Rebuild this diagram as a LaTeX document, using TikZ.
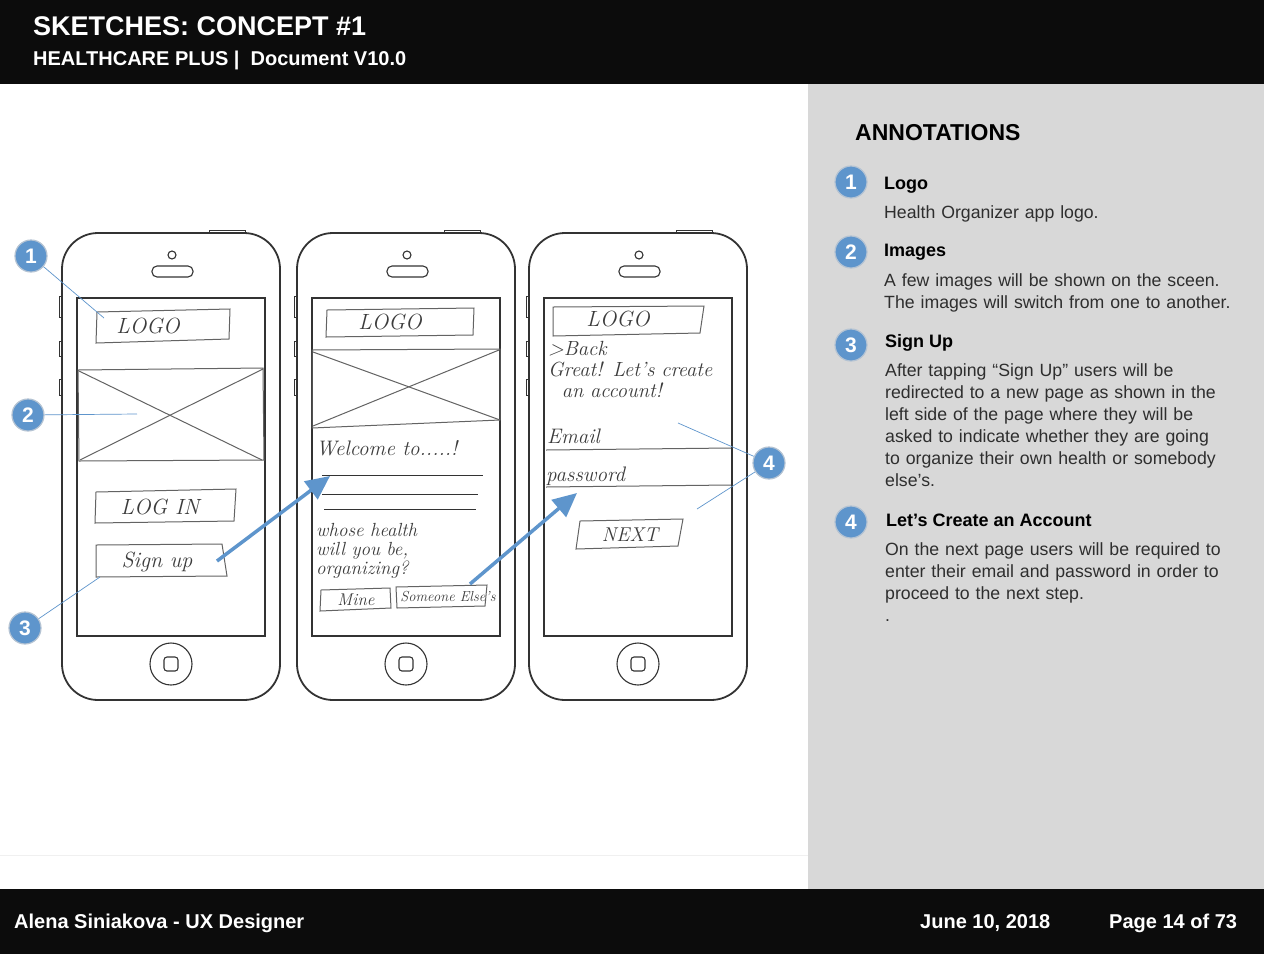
\documentclass[tikz,border=0pt]{standalone}
\usepackage{fontspec}
\setsansfont{Liberation Sans}
\usetikzlibrary{arrows.meta,positioning}
\definecolor{barblack}{HTML}{0C0C0C}
\definecolor{panelgray}{HTML}{D8D8D8}
\definecolor{badgeblue}{HTML}{5E95CC}
\definecolor{badgerim}{HTML}{B4C3D3}
\definecolor{pencil}{HTML}{3C3C3C}
\definecolor{phoneline}{HTML}{333333}
\definecolor{bodytext}{HTML}{2E2E2E}

\begin{document}
\begin{tikzpicture}[x=1pt,y=-1pt,>=Stealth,
  phone/.style={draw=phoneline,line width=1.8pt},
  phonepart/.style={draw=phoneline,line width=1.1pt},
  sketch/.style={draw=pencil!80,line width=1pt},
  hand/.style={text=pencil,font=\itshape\fontsize{20}{20}\selectfont,inner sep=0pt},
  badge/.style={circle,fill=badgeblue,draw=badgerim,line width=1.2pt,text=white,
    font=\sffamily\bfseries\fontsize{21}{21}\selectfont,minimum size=32pt,inner sep=0pt},
  thinblue/.style={draw=badgeblue,line width=0.7pt},
  bigarrow/.style={draw=badgeblue,line width=3.5pt,-{Triangle[length=24pt,width=22pt]}},
  bartext/.style={text=white,font=\sffamily\bfseries,anchor=base west,inner sep=0pt},
  itemhead/.style={font=\sffamily\bfseries\fontsize{18}{22}\selectfont,anchor=base west,inner sep=0pt},
  itembody/.style={text=bodytext,font=\sffamily\fontsize{17.7}{22}\selectfont,anchor=base west,
    inner sep=0pt,text width=380pt,align=left}]
\useasboundingbox (0,0) rectangle (1264,954);
% page background, bars and panel
\fill[white] (0,0) rectangle (1264,954);
\fill[barblack] (0,0) rectangle (1264,84);
\fill[panelgray] (808,84) rectangle (1264,889);
\fill[barblack] (0,889) rectangle (1264,954);
\draw[gray!12,line width=1pt] (0,855) -- (808,855);
\node[bartext,font=\sffamily\bfseries\fontsize{27}{27}\selectfont] (title) at (33,35) {SKETCHES: CONCEPT \#1};
\node[bartext,font=\sffamily\bfseries\fontsize{20}{20}\selectfont] (subtitle) at (33,65) {HEALTHCARE PLUS |\ \ Document V10.0};
\node[bartext,font=\sffamily\bfseries\fontsize{20}{20}\selectfont] (author) at (14,928) {Alena Siniakova - UX Designer};
\node[bartext,font=\sffamily\bfseries\fontsize{20}{20}\selectfont] (date) at (920,928) {June 10, 2018};
\node[bartext,font=\sffamily\bfseries\fontsize{20}{20}\selectfont] (page) at (1109,928) {Page 14 of 73};
% phone frames
\foreach \x in {62,297,529}{
  \draw[phone,rounded corners=36pt] (\x,233) rectangle ({\x+218},700);
  \draw[phonepart] ({\x+15},298) rectangle ({\x+203},636);
  \draw[phonepart] ({\x+110},255) circle (4pt);
  \draw[phonepart,rounded corners=5pt] ({\x+90},266) rectangle ({\x+131},277);
  \draw[phonepart] ({\x+109},664) circle (21pt);
  \draw[phonepart,rounded corners=3pt] ({\x+102},657) rectangle ({\x+116},671);
  \foreach \t/\b in {296/317,341/356,379/395}{
    \draw[phonepart,line width=0.9pt] ({\x-3},\t) rectangle (\x,\b);}
  \draw[phonepart,line width=0.9pt] ({\x+147},230) rectangle ({\x+183},233);
}
% phone 1: start screen
\draw[sketch] (97,312) -- (230,309) -- (229,339) -- (96,343) -- cycle;
\node[hand,font=\itshape\fontsize{22}{22}\selectfont] (logoA) at (148,326) {LOGO};
\draw[sketch] (78,370) -- (263,368) -- (264,460) -- (79,461) -- cycle;
\draw[sketch] (79,371) -- (262,460);
\draw[sketch] (263,369) -- (80,460);
\draw[sketch] (96,492) -- (236,489) -- (234,521) -- (95,523) -- cycle;
\node[hand,font=\itshape\fontsize{22}{22}\selectfont] (loginA) at (160,507) {LOG IN};
\draw[sketch] (96,545) -- (222,544) -- (227,576) -- (96,577) -- cycle;
\node[hand,font=\itshape\fontsize{22}{22}\selectfont] (signA) at (157,562) {Sign up};
% phone 2: whose health
\draw[sketch] (327,310) -- (474,308) -- (473,335) -- (326,337) -- cycle;
\node[hand,font=\itshape\fontsize{22}{22}\selectfont] (logoB) at (390,322) {LOGO};
\draw[sketch] (312,350) -- (500,349) -- (500,420) -- (312,428) -- cycle;
\draw[sketch] (313,352) -- (500,420);
\draw[sketch] (499,350) -- (313,426);
\node[hand,anchor=base west,font=\itshape\fontsize{21}{21}\selectfont] (welcome) at (316,455) {Welcome to.....!};
\foreach \y/\a/\b in {475/322/483,494/322/478,509/324/476}{
  \draw[phonepart,line width=0.8pt] (\a,\y) -- (\b,\y);}
\node[hand,anchor=base west,text width=190pt,align=left,
  font=\itshape\fontsize{19}{19}\selectfont] (whose) at (316,536) {whose health\\will you be,\\organizing?};
\draw[sketch] (321,590) -- (390,588) -- (391,608) -- (320,611) -- cycle;
\node[hand,font=\itshape\fontsize{17}{17}\selectfont] (mine) at (356,600) {Mine};
\draw[sketch] (396,587) -- (487,585) -- (485,606) -- (397,608) -- cycle;
\node[hand,font=\itshape\fontsize{14.5}{14.5}\selectfont] (someone) at (448,597) {Someone Else's};
% phone 3: create an account
\draw[sketch] (553,307) -- (704,306) -- (700,333) -- (553,336) -- cycle;
\node[hand,font=\itshape\fontsize{22}{22}\selectfont] (logoC) at (618,319) {LOGO};
\node[hand,anchor=base west,text width=190pt,align=left,
  font=\itshape\fontsize{20.5}{21}\selectfont] (back) at (548,355) {>Back\\Great! Let's create\\\ \ an account!};
\node[hand,anchor=base west,font=\itshape\fontsize{21}{21}\selectfont] (email) at (547,443) {Email};
\draw[sketch] (546,450) -- (731,448);
\node[hand,anchor=base west,font=\itshape\fontsize{21}{21}\selectfont] (password) at (546,481) {password};
\draw[sketch] (546,487) -- (731,485);
\draw[sketch] (580,521) -- (683,519) -- (678,546) -- (576,549) -- cycle;
\node[hand,font=\itshape\fontsize{20}{20}\selectfont] (next) at (630,535) {NEXT};
% flow arrows
\coordinate (s1) at (217,561);
\coordinate (e1) at (330,476);
\coordinate (s2) at (470,584);
\coordinate (e2) at (577,493);
\draw[bigarrow] (s1) -- (e1);
\draw[bigarrow] (s2) -- (e2);
% callouts
\node[badge] (b1) at (31,256) {1};
\node[badge] (b2) at (28,415) {2};
\node[badge] (b3) at (25,628) {3};
\node[badge] (b4) at (769,463) {4};
\coordinate (t1) at (104,318);
\coordinate (t2) at (137,414);
\coordinate (t3) at (100,577);
\coordinate (t4a) at (678,423);
\coordinate (t4b) at (697,509);
\draw[thinblue] (b1) -- (t1);
\draw[thinblue] (b2) -- (t2);
\draw[thinblue] (b3) -- (t3);
\draw[thinblue] (b4) -- (t4a);
\draw[thinblue] (b4) -- (t4b);
% annotations panel
\node[itemhead,font=\sffamily\bfseries\fontsize{23}{23}\selectfont] (annot) at (855,140) {ANNOTATIONS};
\foreach \n/\y in {1/182,2/252,3/345,4/522}{
  \node[badge] (r\n) at (851,\y) {\n};}
\node[itemhead] (h1) at (884,189) {Logo};
\node[itembody] (d1) at (884,218) {Health Organizer app logo.};
\node[itemhead] (h2) at (884,256) {Images};
\node[itembody] (d2) at (884,286) {A few images will be shown on the sceen.\\The images will switch from one to another.};
\node[itemhead] (h3) at (885,347) {Sign Up};
\node[itembody] (d3) at (885,376) {After tapping “Sign Up” users will be\\redirected to a new page as shown in the\\left side of the page where they will be\\asked to indicate whether they are going\\to organize their own health or somebody\\else’s.};
\node[itemhead] (h4) at (886,526) {Let’s Create an Account};
\node[itembody] (d4) at (885,555) {On the next page users will be required to\\enter their email and password in order to\\proceed to the next step.\\.};
\end{tikzpicture}
\end{document}
